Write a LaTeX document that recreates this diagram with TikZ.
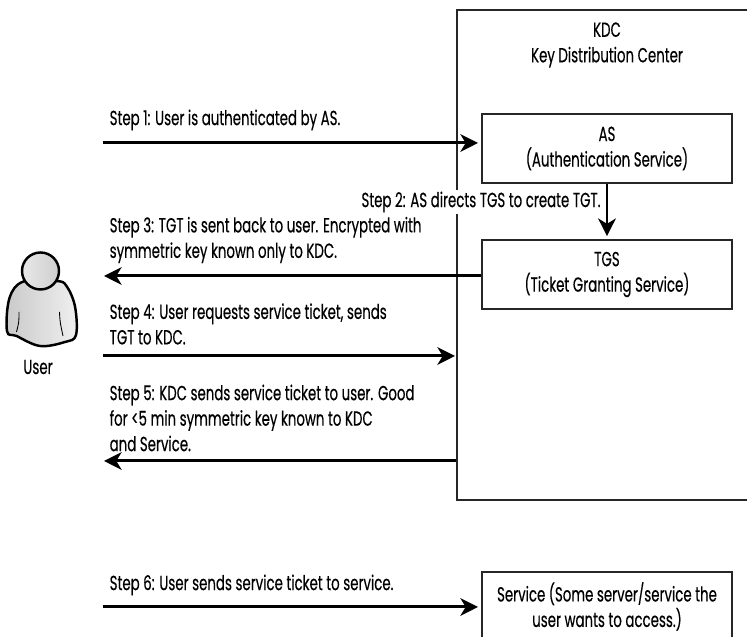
\documentclass[tikz,border=0pt]{standalone}
\usepackage{fontspec}
\setmainfont[FakeStretch=0.655,FakeBold=0.35]{Poppins}
\usetikzlibrary{arrows.meta}

\begin{document}
\begin{tikzpicture}[box/.style={rectangle, draw=black!85, line width=0.8pt, align=center, minimum width=5cm, minimum height=1.38cm},
    steptext/.style={anchor=west, align=left},
    flow/.style={line width=1.7pt, -{Stealth[length=10pt, width=10pt, inset=3pt]}},
    every node/.style={font=\fontsize{11.6}{14.5}\selectfont}]

  \useasboundingbox (0,0) rectangle (14.94,12.74);
  \clip (0,0) rectangle (14.94,12.74);

  \node[box, minimum width=6.86cm, minimum height=9.8cm] (KDCbox) at (12.57,7.64) {};
  \node[align=center] (KDC) at (12.14,11.84) {KDC\\Key Distribution Center};

  \node[box] (AS) at (12.14,9.77) {AS\\(Authentication Service)};
  \node[box] (TGS) at (12.14,7.25) {TGS\\(Ticket Granting Service)};
  \node[box] (Service) at (12.14,0.61) {Service (Some server/service the\\user wants to access.)};

  % user
  \draw[line width=1.4pt, left color=gray!42, right color=gray!12] plot[smooth cycle, tension=0.6] coordinates
    {(.47,7.11) (.19,6.78) (.14,6.12) (.33,6.02) (.8,5.82) (1.3,5.9) (1.52,6.04) (1.5,6.61) (1.33,7.02) (1.13,7.12)};
  \draw[line width=0.5pt] (.38,6.5) .. controls (.38,6.3) .. (.33,6.1);
  \draw[line width=0.5pt] (1.19,6.5) .. controls (1.2,6.3) .. (1.26,6.02);
  \node[circle, draw, line width=1.4pt, minimum size=.74cm, left color=gray!18, right color=gray!38] (head) at (.81,7.32) {};
  \node (User) at (.76,5.4) {User};

  \coordinate (s1a) at (2.06,9.88);
  \coordinate (s1b) at (9.56,9.88);
  \coordinate (s3) at (2.08,7.22);
  \coordinate (s4a) at (2.06,5.62);
  \coordinate (s4b) at (9.1,5.62);
  \coordinate (s5) at (2.08,3.52);
  \coordinate (s6a) at (2.06,0.6);
  \coordinate (s6b) at (9.56,0.6);

  \draw[flow] (s1a) -- (s1b);
  \draw[flow, shorten >=1.8pt] (AS.south) -- (TGS.north);
  \draw[flow] (TGS.west |- s3) -- (s3);
  \draw[flow] (s4a) -- (s4b);
  \draw[flow] (KDCbox.west |- s5) -- (s5);
  \draw[flow] (s6a) -- (s6b);

  \node[steptext] (step1) at (2.07,10.34) {Step 1: User is authenticated by AS.};
  \node[fill=white, inner xsep=1pt, inner ysep=1pt] (step2) at (9.62,8.7) {Step 2: AS directs TGS to create TGT.};
  \node[steptext] (step3) at (2.07,7.94) {Step 3: TGT is sent back to user. Encrypted with\\symmetric key known only to KDC.};
  \node[steptext] (step4) at (2.07,6.26) {Step 4: User requests service ticket, sends\\TGT to KDC.};
  \node[steptext] (step5) at (2.07,4.38) {Step 5: KDC sends service ticket to user. Good\\for <5 min symmetric key known to KDC\\and Service.};
  \node[steptext] (step6) at (2.07,1.04) {Step 6: User sends service ticket to service.};

\end{tikzpicture}
\end{document}
